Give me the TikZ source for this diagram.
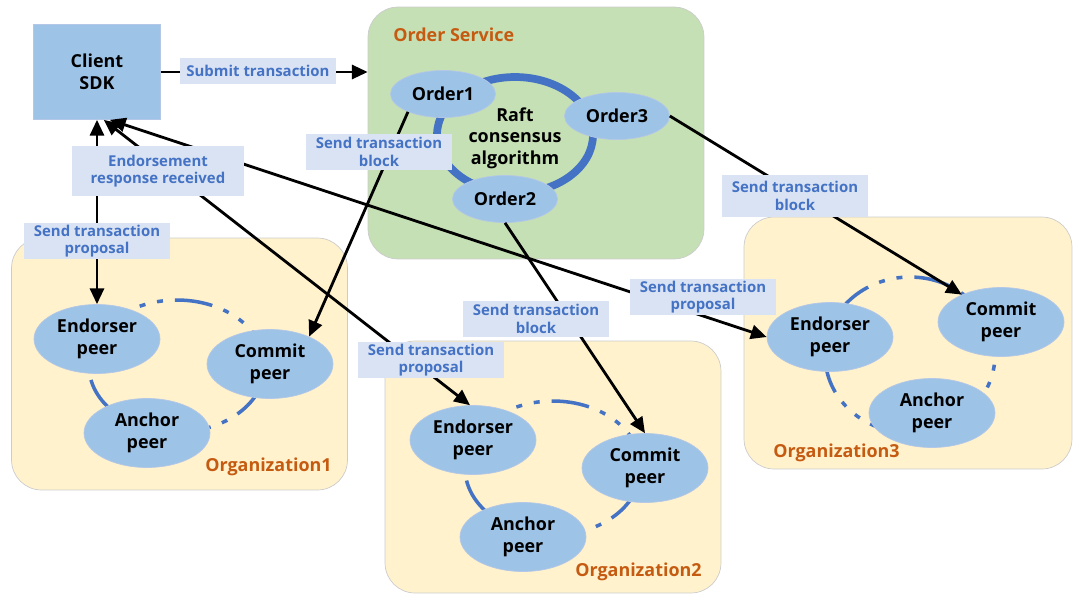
\documentclass[tikz,border=0pt]{standalone}
\usepackage{fontspec}
\setmainfont{Open Sans}
\usetikzlibrary{shapes.geometric,arrows.meta}

\definecolor{peerblue}{HTML}{9DC3E6}
\definecolor{peeredge}{HTML}{B4C7E7}
\definecolor{ringblue}{HTML}{4472C4}
\definecolor{lblfill}{HTML}{DAE3F3}
\definecolor{ordgreen}{HTML}{C5E0B4}
\definecolor{orgyellow}{HTML}{FFF2CC}
\definecolor{zoneedge}{HTML}{CCCCCC}
\definecolor{orgorange}{HTML}{C55A11}

\newcommand{\nodefont}{\fontsize{10.2}{12.3}\selectfont\bfseries}
\newcommand{\lblfont}{\fontsize{8.5}{9.9}\selectfont\bfseries}

\tikzset{
  zone/.style={draw=zoneedge, rounded corners=0.6cm, minimum width=6.72cm, minimum height=5.04cm},
  zonetitle/.style={text=orgorange, font=\nodefont, inner sep=0pt},
  peer/.style={ellipse, draw=peeredge, fill=peerblue, minimum width=2.52cm, minimum height=1.38cm, align=center, font=\nodefont, inner sep=0pt},
  orderer/.style={peer, minimum width=2.1cm, minimum height=0.94cm},
  gossip/.style={ringblue, line width=2pt, dash pattern=on 21.6pt off 6.8pt on 3.4pt off 6.8pt on 3.4pt off 6.8pt},
  lbl/.style={fill=lblfill, text=ringblue, font=\lblfont, align=center, minimum width=2.92cm, minimum height=0.72cm, inner sep=1pt},
  arr/.style={-{Triangle[length=9pt,width=8pt]}, line width=1.6pt},
  dbl/.style={{Triangle[length=9pt,width=8pt]}-{Triangle[length=9pt,width=8pt]}, line width=1.6pt}
}

\begin{document}
\begin{tikzpicture}[x=0.02cm, y=-0.02cm]
    \useasboundingbox (0,0) rectangle (1073,593);

    % Zones
    \node[zone, fill=ordgreen] (ordsvc) at (536,133) {};
    \node[zone, fill=orgyellow] (org1) at (179.5,364) {};
    \node[zone, fill=orgyellow] (org2) at (553,467) {};
    \node[zone, fill=orgyellow, minimum width=6.56cm] (org3) at (908,343) {};
    \node[zonetitle, anchor=west] (ordtitle) at (393,35) {Order Service};
    \node[zonetitle, anchor=east] (org1title) at (332,467) {Organization1};
    \node[zonetitle, anchor=east] (org2title) at (702,572) {Organization2};
    \node[zonetitle, anchor=west] (org3title) at (773,453) {Organization3};

    % Client
    \node[fill=peerblue, draw=peeredge, minimum width=2.54cm, minimum height=1.9cm, align=center, font=\nodefont] (client) at (97,72) {Client\\SDK};

    % Raft ring and orderers
    \draw[ringblue, line width=4.4pt] (515,135) ellipse [x radius=1.56cm, y radius=1.16cm];
    \node[font=\nodefont, align=center] (raft) at (515,138) {Raft\\consensus\\algorithm};
    \node[orderer] (o1) at (443,94) {Order1};
    \node[orderer] (o3) at (617,116) {Order3};
    \node[orderer] (o2) at (505,199) {Order2};

    % Gossip rings
    \draw[gossip] (177,366) ellipse [x radius=1.76cm, y radius=1.32cm];
    \draw[gossip] (553,468) ellipse [x radius=1.76cm, y radius=1.34cm];
    \draw[gossip] (910,355) ellipse [x radius=1.7cm, y radius=1.56cm];

    % Peers
    \node[peer] (e1) at (97,339) {Endorser\\peer};
    \node[peer] (c1) at (270,364) {Commit\\peer};
    \node[peer] (a1) at (147,433) {Anchor\\peer};
    \node[peer] (e2) at (473,440) {Endorser\\peer};
    \node[peer] (c2) at (645,468) {Commit\\peer};
    \node[peer] (a2) at (523,537) {Anchor\\peer};
    \node[peer] (e3) at (830,337) {Endorser\\peer};
    \node[peer] (c3) at (1001,322) {Commit\\peer};
    \node[peer] (a3) at (932,413) {Anchor\\peer};

    % Flows
    \draw[arr] (client.east) -- (client.east -| ordsvc.west);
    \draw[dbl] (client.south) -- (e1.north);
    \draw[dbl] (client.-82) -- (e2.95);
    \draw[dbl] (client.-75) -- (e3.west);
    \draw[arr] (o1.207) -- (c1.35);
    \draw[arr] (o2.south) -- (c2.north);
    \draw[arr] (o3.east) -- (c3.145);

    % Labels
    \node[lbl, minimum width=3.14cm, minimum height=0.52cm] (submit) at (258,71) {Submit transaction};
    \node[lbl, minimum width=3.46cm, minimum height=1cm] (resp) at (158,171) {Endorsement\\response received};
    \node[lbl] (prop1) at (97,241) {Send transaction\\proposal};
    \node[lbl] (blk1) at (379,152) {Send transaction\\block};
    \node[lbl, minimum height=0.84cm] (blk3) at (795,196) {Send transaction\\block};
    \node[lbl] (blk2) at (536,319) {Send transaction\\block};
    \node[lbl] (prop2) at (431,360) {Send transaction\\proposal};
    \node[lbl] (prop3) at (703,297) {Send transaction\\proposal};
\end{tikzpicture}
\end{document}
